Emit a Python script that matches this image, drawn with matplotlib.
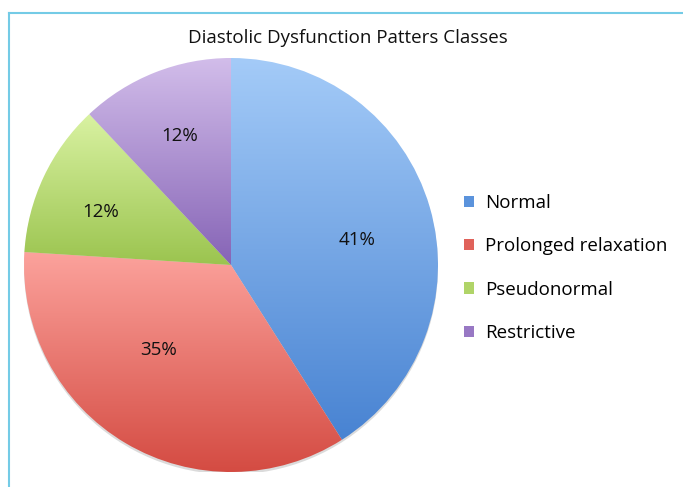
import numpy as np
import matplotlib
matplotlib.use("Agg")
import matplotlib.pyplot as plt
from matplotlib.lines import Line2D
from matplotlib.patches import Patch, Circle
from matplotlib.colors import LinearSegmentedColormap

plt.rcParams['font.family'] = ['Open Sans', 'DejaVu Sans']

title = "Diastolic Dysfunction Patters Classes"
classes = ["Normal", "Prolonged relaxation", "Pseudonormal", "Restrictive"]
shares = [41, 35, 12, 12]
top_colors = ["#a4cbf8", "#fca29c", "#d9f2a2", "#d2bdea"]
bottom_colors = ["#4883d2", "#d44b42", "#9bc44f", "#8664b6"]
legend_colors = ["#5b93dc", "#e0625a", "#b0d468", "#9878c4"]

# label placement tweaks (Excel "best fit" style)
label_dist = [0.62, 0.54, 0.68, 0.67]
label_shift = [-5, -10, 3, 0]

fig = plt.figure(figsize=(6.83, 4.87), dpi=100)

# frame lines of the original panel
fig.add_artist(Line2D([9 / 683, 1], [1 - 13 / 487, 1 - 13 / 487], color="#74cbe6", lw=1.5))
fig.add_artist(Line2D([9 / 683, 9 / 683], [0, 1 - 13 / 487], color="#74cbe6", lw=1.5))

fig.text(348 / 683, 1 - 38 / 487, title, ha="center", va="center", fontsize=13.5, color="#111111")

r_px = 207
cx, cy = 231, 487 - 265
ax = fig.add_axes([(cx - r_px) / 683, (cy - r_px) / 487, 2 * r_px / 683, 2 * r_px / 487])

# soft shadow under the pie
ax.add_patch(Circle((0.0, -0.012), 1.0, color="#999999", alpha=0.35, zorder=0, lw=0))

wedges, texts, autotexts = ax.pie(shares, startangle=90, counterclock=False,
                                  autopct="%d%%", pctdistance=0.66,
                                  textprops=dict(fontsize=13.5, color="#111111"),
                                  wedgeprops=dict(lw=0))

for w, c0, c1 in zip(wedges, top_colors, bottom_colors):
    w.set_facecolor("none")
    v = w.get_path().vertices
    y0, y1 = v[:, 1].min(), v[:, 1].max()
    x0, x1 = v[:, 0].min(), v[:, 0].max()
    cmap = LinearSegmentedColormap.from_list("g", [c1, c0])
    grad = np.linspace(0, 1, 256).reshape(-1, 1)
    im = ax.imshow(grad, cmap=cmap, extent=[x0, x1, y0, y1], origin="lower",
                   aspect="auto", zorder=1)
    im.set_clip_path(w)

for w, t, d, s in zip(wedges, autotexts, label_dist, label_shift):
    ang = np.deg2rad((w.theta1 + w.theta2) / 2 + s)
    t.set_position((d * np.cos(ang), d * np.sin(ang)))
    t.set_zorder(3)

ax.set_xlim(-1, 1)
ax.set_ylim(-1, 1)
ax.set_aspect("equal")
ax.axis("off")

handles = [Patch(facecolor=c, edgecolor="none") for c in legend_colors]
fig.legend(handles, classes, loc="center left", bbox_to_anchor=(447 / 683, 1 - 268 / 487),
           frameon=False, fontsize=13.5, handlelength=0.55, handleheight=0.55,
           handletextpad=0.6, labelspacing=1.35)

fig.savefig("out.png", dpi=100)
